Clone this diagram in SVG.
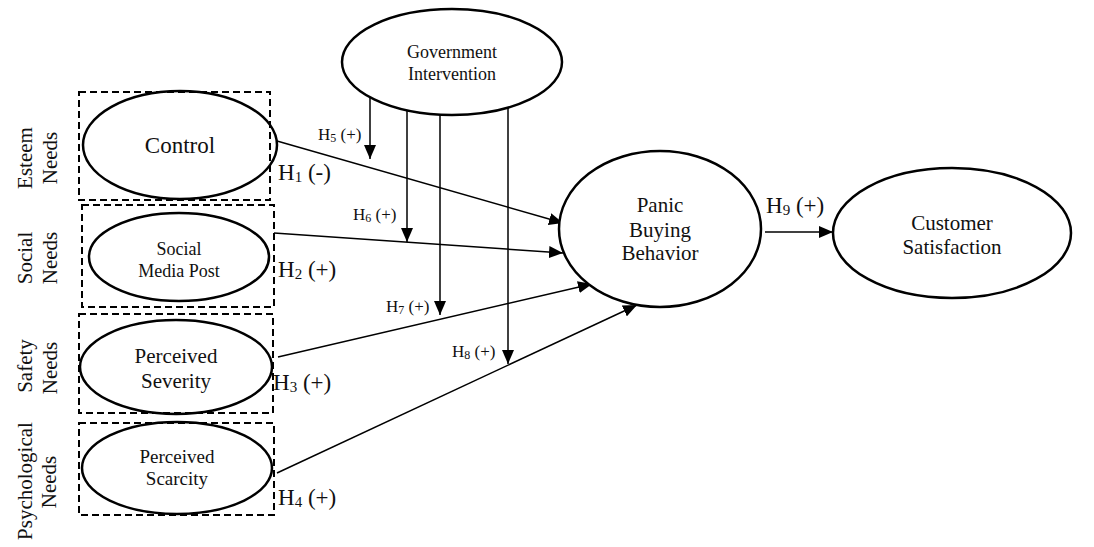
<svg xmlns="http://www.w3.org/2000/svg" width="1094" height="547" viewBox="0 0 1094 547">
<style>
text{font-family:"Liberation Serif","Times New Roman",serif;fill:#111;}
.el{fill:#fff;stroke:#000;stroke-width:2.5;}
.box{fill:none;stroke:#000;stroke-width:2;stroke-dasharray:7,4;}
.c{fill:none;stroke:#000;stroke-width:1.5;}
.mid{text-anchor:middle;}
.big{font-size:23px;}
.sm{font-size:17px;}
</style>
<defs>
<marker id="ah" markerUnits="userSpaceOnUse" markerWidth="14" markerHeight="12" refX="14" refY="6" orient="auto">
<path d="M0,0 L14,6 L0,12 z" fill="#000"/>
</marker>
</defs>
<rect width="1094" height="547" fill="#fff"/>

<g id="connectors">
<line class="c" x1="277" y1="141" x2="563" y2="223" marker-end="url(#ah)"/>
<line class="c" x1="274" y1="233" x2="563" y2="253" marker-end="url(#ah)"/>
<line class="c" x1="278" y1="357" x2="592" y2="284" marker-end="url(#ah)"/>
<line class="c" x1="277" y1="473" x2="637" y2="305" marker-end="url(#ah)"/>
<line class="c" x1="370" y1="97" x2="370" y2="159" marker-end="url(#ah)"/>
<line class="c" x1="407" y1="110" x2="407" y2="242" marker-end="url(#ah)"/>
<line class="c" x1="440" y1="112" x2="440" y2="315" marker-end="url(#ah)"/>
<line class="c" x1="508" y1="103" x2="508" y2="364" marker-end="url(#ah)"/>
<line class="c" x1="765" y1="232" x2="833" y2="232" marker-end="url(#ah)"/>
<text class="big" x="278" y="180">H<tspan font-size="15" dy="2">1</tspan><tspan dy="-2"> (-)</tspan></text>
<text class="big" x="278" y="277">H<tspan font-size="15" dy="2">2</tspan><tspan dy="-2"> (+)</tspan></text>
<text class="big" x="273" y="390">H<tspan font-size="15" dy="2">3</tspan><tspan dy="-2"> (+)</tspan></text>
<text class="big" x="278" y="505">H<tspan font-size="15" dy="2">4</tspan><tspan dy="-2"> (+)</tspan></text>
<text class="sm" x="318" y="140">H<tspan font-size="12" dy="2">5</tspan><tspan dy="-2"> (+)</tspan></text>
<text class="sm" x="353" y="220">H<tspan font-size="12" dy="2">6</tspan><tspan dy="-2"> (+)</tspan></text>
<text class="sm" x="386" y="312">H<tspan font-size="12" dy="2">7</tspan><tspan dy="-2"> (+)</tspan></text>
<text class="sm" x="452" y="357">H<tspan font-size="12" dy="2">8</tspan><tspan dy="-2"> (+)</tspan></text>
<text class="big" x="766" y="213">H<tspan font-size="15" dy="2">9</tspan><tspan dy="-2"> (+)</tspan></text>
</g>

<g id="gov">
<ellipse class="el" cx="452" cy="62" rx="110" ry="53"/>
<text class="mid" font-size="18" x="452" y="58">Government</text>
<text class="mid" font-size="18" x="452" y="80">Intervention</text>
</g>

<g id="control">
<ellipse class="el" cx="180" cy="145" rx="97" ry="54"/>
<text class="mid" font-size="23" x="180" y="153">Control</text>
</g>

<g id="social">
<ellipse class="el" cx="179" cy="257" rx="90" ry="44"/>
<text class="mid" font-size="18" x="179" y="255">Social</text>
<text class="mid" font-size="18" x="179" y="277">Media Post</text>
</g>

<g id="severity">
<ellipse class="el" cx="176" cy="367" rx="96" ry="47"/>
<text class="mid" font-size="21" x="176" y="363">Perceived</text>
<text class="mid" font-size="21" x="176" y="388">Severity</text>
</g>

<g id="scarcity">
<ellipse class="el" cx="177" cy="468" rx="95" ry="46"/>
<text class="mid" font-size="19" x="177" y="463">Perceived</text>
<text class="mid" font-size="19" x="177" y="485">Scarcity</text>
</g>

<g id="panic">
<ellipse class="el" cx="660" cy="229" rx="101" ry="78"/>
<text class="mid" font-size="21" x="660" y="212">Panic</text>
<text class="mid" font-size="21" x="660" y="237">Buying</text>
<text class="mid" font-size="21" x="660" y="260">Behavior</text>
</g>

<g id="satisfaction">
<ellipse class="el" cx="952" cy="233" rx="119" ry="65"/>
<text class="mid" font-size="21" x="952" y="230">Customer</text>
<text class="mid" font-size="21" x="952" y="254">Satisfaction</text>
</g>

<g id="groups">
<rect class="box" x="79" y="92" width="191" height="108"/>
<rect class="box" x="82" y="205" width="192" height="102"/>
<rect class="box" x="79" y="314" width="194" height="99"/>
<rect class="box" x="79" y="423" width="195" height="92"/>
<text class="mid" font-size="21" transform="translate(32,158) rotate(-90)">Esteem</text>
<text class="mid" font-size="21" transform="translate(57,158) rotate(-90)">Needs</text>
<text class="mid" font-size="21" transform="translate(32,258) rotate(-90)">Social</text>
<text class="mid" font-size="21" transform="translate(57,258) rotate(-90)">Needs</text>
<text class="mid" font-size="21" transform="translate(32,366) rotate(-90)">Safety</text>
<text class="mid" font-size="21" transform="translate(57,368) rotate(-90)">Needs</text>
<text class="mid" font-size="21" transform="translate(32,481) rotate(-90)">Psychological</text>
<text class="mid" font-size="21" transform="translate(56,482) rotate(-90)">Needs</text>
</g>
</svg>
